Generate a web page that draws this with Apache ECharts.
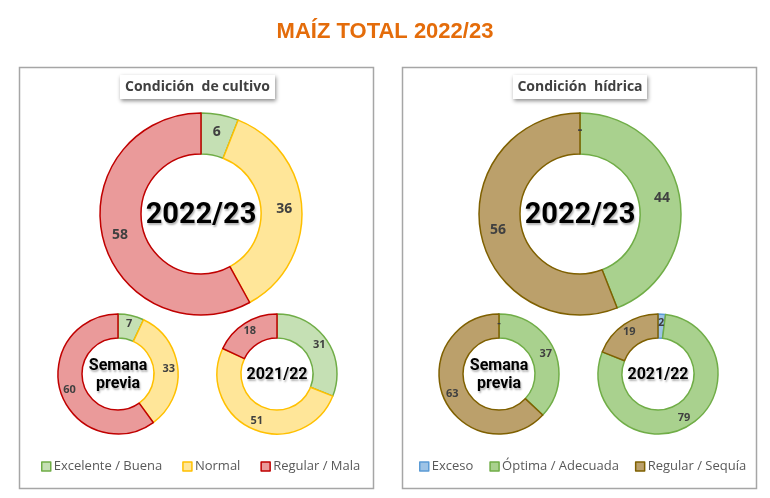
<!DOCTYPE html>
<html>
<head>
<meta charset="utf-8">
<script src="https://cdn.jsdelivr.net/npm/echarts@6/dist/echarts.min.js"></script>
<style>
html,body{margin:0;padding:0;background:#fff;}
#c{width:770px;height:498px;}
</style>
</head>
<body>
<div id="c"></div>
<script>
// ---- data ----
const mainTitle = 'MAÍZ TOTAL 2022/23';
const panelTitles = ['Condición  de cultivo', 'Condición  hídrica'];
const cultivoCats = ['Excelente / Buena', 'Normal', 'Regular / Mala'];
const hidricaCats = ['Exceso', 'Óptima / Adecuada', 'Regular / Sequía'];
const cultivoActual = [6, 36, 58];
const cultivoPrevia = [7, 33, 60];
const cultivoAnterior = [31, 51, 18];
const hidricaActual = [0, 44, 56];
const hidricaPrevia = [0, 37, 63];
const hidricaAnterior = [2, 79, 19];
const centerLabels = ['2022/23', 'Semana\nprevia', '2021/22'];

// ---- styles ----
const cultivoFill = ['#C5E0B4', '#FFE699', '#EA9A9A'];
const cultivoBorder = ['#70AD47', '#FFC000', '#C00000'];
const hidricaFill = ['#9DC3E6', '#A9D18E', '#BBA06B'];
const hidricaBorder = ['#5B9BD5', '#70AD47', '#7F6000'];

const chart = echarts.init(document.getElementById('c'));

function pie(cats, vals, fills, borders, center, radius, fs) {
  return {
    type: 'pie',
    center: center,
    radius: radius,
    startAngle: 90,
    clockwise: true,
    silent: true,
    avoidLabelOverlap: false,
    stillShowZeroSum: true,
    label: {
      show: true,
      position: 'inside',
      color: '#404040',
      fontFamily: 'Open Sans',
      fontWeight: 'bold',
      fontSize: fs,
      formatter: p => p.value === 0 ? '-' : String(p.value)
    },
    labelLine: {show: false},
    emphasis: {disabled: true},
    data: cats.map((c, i) => ({
      name: c,
      value: vals[i],
      itemStyle: {color: fills[i], borderColor: borders[i], borderWidth: 1.5}
    }))
  };
}

const centers = {
  L: [[201, 214], [118, 374], [277, 374]],
  R: [[580, 214], [499, 374], [658, 374]]
};
const bigR = ['60', '101'];
const smallR = ['36', '60'];

const series = [
  pie(cultivoCats, cultivoActual, cultivoFill, cultivoBorder, centers.L[0], bigR, 14),
  pie(cultivoCats, cultivoPrevia, cultivoFill, cultivoBorder, centers.L[1], smallR, 11),
  pie(cultivoCats, cultivoAnterior, cultivoFill, cultivoBorder, centers.L[2], smallR, 11),
  pie(hidricaCats, hidricaActual, hidricaFill, hidricaBorder, centers.R[0], bigR, 14),
  pie(hidricaCats, hidricaPrevia, hidricaFill, hidricaBorder, centers.R[1], smallR, 11),
  pie(hidricaCats, hidricaAnterior, hidricaFill, hidricaBorder, centers.R[2], smallR, 11)
];

const centerFont = 'Roboto, sans-serif';
function centerText(txt, c, size, lh, dy) {
  return {
    type: 'text',
    x: c[0], y: c[1] + dy,
    z: 100,
    style: {
      text: txt,
      textAlign: 'center',
      textVerticalAlign: 'middle',
      fill: '#000',
      font: 'bold ' + size + 'px ' + centerFont,
      lineHeight: lh,
      textShadowColor: 'rgba(0,0,0,0.3)',
      textShadowBlur: 2,
      textShadowOffsetX: 1,
      textShadowOffsetY: 2
    }
  };
}

const graphics = [
  {type: 'rect', shape: {x: 19.5, y: 67.5, width: 354, height: 421}, style: {fill: 'none', stroke: '#A6A6A6', lineWidth: 1.5}, z: 0},
  {type: 'rect', shape: {x: 402.5, y: 67.5, width: 354, height: 421}, style: {fill: 'none', stroke: '#A6A6A6', lineWidth: 1.5}, z: 0},
  {type: 'rect', shape: {x: 120, y: 75, width: 155, height: 24}, style: {fill: '#fff', shadowColor: 'rgba(0,0,0,0.45)', shadowBlur: 4, shadowOffsetX: 1, shadowOffsetY: 2}, z: 5},
  {type: 'rect', shape: {x: 513, y: 75, width: 134, height: 24}, style: {fill: '#fff', shadowColor: 'rgba(0,0,0,0.45)', shadowBlur: 4, shadowOffsetX: 1, shadowOffsetY: 2}, z: 5},
  {type: 'text', x: 197.5, y: 87, z: 6, style: {text: panelTitles[0], textAlign: 'center', textVerticalAlign: 'middle', fill: '#404040', font: 'bold 14px Open Sans'}},
  {type: 'text', x: 580, y: 87, z: 6, style: {text: panelTitles[1], textAlign: 'center', textVerticalAlign: 'middle', fill: '#404040', font: 'bold 14px Open Sans'}},
  centerText(centerLabels[0], centers.L[0], 29, 32, 2),
  centerText(centerLabels[1], centers.L[1], 16, 18, 1),
  centerText(centerLabels[2], centers.L[2], 16, 19, 1),
  centerText(centerLabels[0], centers.R[0], 29, 32, 2),
  centerText(centerLabels[1], centers.R[1], 16, 18, 1),
  centerText(centerLabels[2], centers.R[2], 16, 19, 1)
];

const legendCommon = {
  top: 455,
  itemWidth: 9,
  itemHeight: 9,
  icon: 'rect',
  selectedMode: false,
  textStyle: {color: '#595959', fontSize: 13, fontFamily: 'Open Sans', padding: [0, 0, 0, -2]},
  itemStyle: {borderWidth: 1.5}
};

chart.setOption({
  animation: false,
  title: {
    text: mainTitle,
    left: 'center',
    top: 16,
    textStyle: {color: '#E46C0A', fontSize: 22, fontWeight: 'bold', fontFamily: 'Liberation Sans, Arial, sans-serif'}
  },
  legend: [
    Object.assign({}, legendCommon, {data: cultivoCats, left: 36, itemGap: 20}),
    Object.assign({}, legendCommon, {data: hidricaCats, left: 414, itemGap: 16})
  ],
  series: series,
  graphic: graphics
});
</script>
</body>
</html>
